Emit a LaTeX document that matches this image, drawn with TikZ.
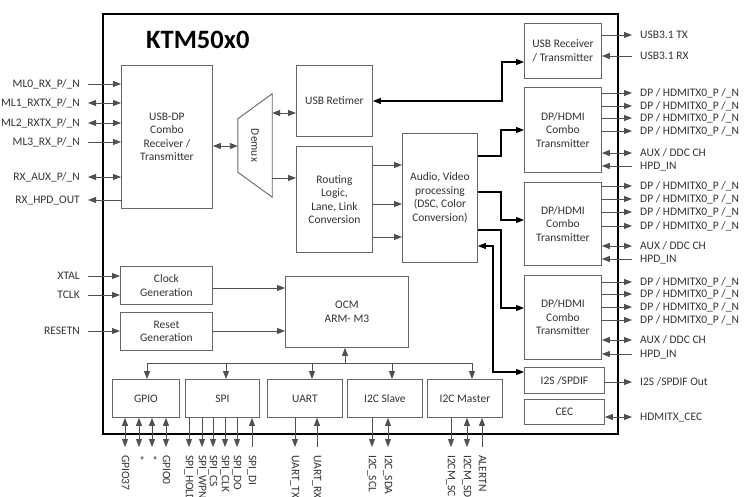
\documentclass[tikz,border=0pt]{standalone}
\usepackage{fontspec}
\setmainfont{Carlito}
\usetikzlibrary{arrows.meta}
\definecolor{txt}{HTML}{333333}
\definecolor{linec}{HTML}{505050}
\definecolor{boxc}{HTML}{666666}
\newcommand{\lblf}{\fontsize{11.5}{13.5}\selectfont}
\begin{document}
\begin{tikzpicture}[x=1pt,y=-1pt,
  >={Triangle[length=8pt,width=6pt]},
  blk/.style={draw=boxc, line width=0.9pt, align=center, inner sep=1pt, font=\lblf, text=txt, anchor=north west},
  pinlbl/.style={font=\lblf, text=txt, inner sep=0pt, text height=1.6ex, text depth=0.3ex},
  wire/.style={draw=linec, line width=0.9pt},
  ar/.style={wire, ->},
  bi/.style={wire, <->}]
\useasboundingbox (0,0) rectangle (750,497);
\fill[white] (0,0) rectangle (750,497);

% chip
\node[draw=black, line width=2.2pt, minimum width=515pt, minimum height=420pt, anchor=north west, inner sep=0pt] (chip) at (102,13) {};
\node[font=\bfseries\fontsize{26.5}{29}\selectfont, text=black, anchor=west, inner sep=0pt] (title) at (146,40) {KTM50x0};

% blocks
\node[blk, minimum width=91pt, minimum height=143pt] (usbdp) at (121,65) {USB-DP\\Combo\\Receiver /\\Transmitter};
\node[minimum width=34pt, minimum height=103pt, inner sep=0pt] (demux) at (255,145.5) {};
\draw[draw=boxc, line width=0.9pt] (demux.north east) -- (demux.south east) -- ([yshift=25pt]demux.south west) -- ([yshift=-25pt]demux.north west) -- cycle;
\node[font=\lblf, text=txt, rotate=-90] (demuxt) at (demux.center) {Demux};
\node[blk, minimum width=76pt, minimum height=71pt] (usbret) at (296,65) {USB Retimer};
\node[blk, minimum width=76pt, minimum height=106pt] (routing) at (296,146) {Routing\\Logic,\\Lane, Link\\Conversion};
\node[blk, minimum width=75pt, minimum height=129pt] (av) at (402,133) {Audio, Video\\processing\\(DSC, Color\\Conversion)};
\node[blk, minimum width=77pt, minimum height=55pt] (usbrx) at (524,23) {USB Receiver\\/ Transmitter};
\node[blk, minimum width=77pt, minimum height=85pt] (dp1) at (524,87) {DP/HDMI\\Combo\\Transmitter};
\node[blk, minimum width=77pt, minimum height=83pt] (dp2) at (524,182) {DP/HDMI\\Combo\\Transmitter};
\node[blk, minimum width=77pt, minimum height=84pt] (dp3) at (524,275) {DP/HDMI\\Combo\\Transmitter};
\node[blk, minimum width=80pt, minimum height=26pt] (i2s) at (524,367) {I2S /SPDIF};
\node[blk, minimum width=80pt, minimum height=25pt] (cec) at (524,399) {CEC};
\node[blk, minimum width=92pt, minimum height=38pt] (clk) at (120,266) {Clock\\Generation};
\node[blk, minimum width=92pt, minimum height=38pt] (rst) at (120,312) {Reset\\Generation};
\node[blk, minimum width=123pt, minimum height=71pt] (ocm) at (285,276) {OCM\\ARM- M3};
\node[blk, minimum width=67pt, minimum height=38pt] (gpio) at (112,379) {GPIO};
\node[blk, minimum width=74pt, minimum height=38pt] (spi) at (185,379) {SPI};
\node[blk, minimum width=75pt, minimum height=38pt] (uart) at (267,379) {UART};
\node[blk, minimum width=75pt, minimum height=38pt] (i2cs) at (347,379) {I2C Slave};
\node[blk, minimum width=75pt, minimum height=38pt] (i2cm) at (427,379) {I2C Master};

% left pins
\node[pinlbl, anchor=east] (ml0) at (80,84) {ML0\_RX\_P/\_N};
\node[pinlbl, anchor=east] (ml1) at (80,103) {ML1\_RXTX\_P/\_N};
\node[pinlbl, anchor=east] (ml2) at (80,123) {ML2\_RXTX\_P/\_N};
\node[pinlbl, anchor=east] (ml3) at (80,142) {ML3\_RX\_P/\_N};
\node[pinlbl, anchor=east] (rxaux) at (80,177) {RX\_AUX\_P/\_N};
\node[pinlbl, anchor=east] (rxhpd) at (80,200) {RX\_HPD\_OUT};
\node[pinlbl, anchor=east] (xtal) at (80,276) {XTAL};
\node[pinlbl, anchor=east] (tclk) at (80,295) {TCLK};
\node[pinlbl, anchor=east] (resetn) at (80,331) {RESETN};
\draw[ar] ([xshift=8pt]ml0.east) -- (usbdp.west |- ml0.east);
\draw[bi] ([xshift=8pt]ml1.east) -- (usbdp.west |- ml1.east);
\draw[bi] ([xshift=8pt]ml2.east) -- (usbdp.west |- ml2.east);
\draw[ar] ([xshift=8pt]ml3.east) -- (usbdp.west |- ml3.east);
\draw[bi] ([xshift=8pt]rxaux.east) -- (usbdp.west |- rxaux.east);
\draw[ar] (usbdp.west |- rxhpd.east) -- ([xshift=8pt]rxhpd.east);
\draw[ar] ([xshift=8pt]xtal.east) -- (clk.west |- xtal.east);
\draw[ar] ([xshift=8pt]tclk.east) -- (clk.west |- tclk.east);
\draw[ar] ([xshift=8pt]resetn.east) -- (rst.west |- resetn.east);

% right pins
\node[pinlbl, anchor=west] (utx) at (640,35) {USB3.1 TX};
\node[pinlbl, anchor=west] (urx) at (640,56) {USB3.1 RX};
\draw[ar] (usbrx.east |- utx.west) -- ([xshift=-8pt]utx.west);
\draw[ar] ([xshift=-8pt]urx.west) -- (usbrx.east |- urx.west);

\node[pinlbl, anchor=west] (a1) at (640,93) {DP / HDMITX0\_P /\_N};
\node[pinlbl, anchor=west] (a2) at (640,106) {DP / HDMITX0\_P /\_N};
\node[pinlbl, anchor=west] (a3) at (640,118) {DP / HDMITX0\_P /\_N};
\node[pinlbl, anchor=west] (a4) at (640,131) {DP / HDMITX0\_P /\_N};
\node[pinlbl, anchor=west] (aaux) at (640,153) {AUX / DDC CH};
\node[pinlbl, anchor=west] (ahpd) at (640,166) {HPD\_IN};
\draw[ar] (dp1.east |- a1.west) -- ([xshift=-8pt]a1.west);
\draw[ar] (dp1.east |- a2.west) -- ([xshift=-8pt]a2.west);
\draw[ar] (dp1.east |- a3.west) -- ([xshift=-8pt]a3.west);
\draw[ar] (dp1.east |- a4.west) -- ([xshift=-8pt]a4.west);
\draw[bi] (dp1.east |- aaux.west) -- ([xshift=-8pt]aaux.west);
\draw[ar] ([xshift=-8pt]ahpd.west) -- (dp1.east |- ahpd.west);

\node[pinlbl, anchor=west] (b1) at (640,186) {DP / HDMITX0\_P /\_N};
\node[pinlbl, anchor=west] (b2) at (640,199) {DP / HDMITX0\_P /\_N};
\node[pinlbl, anchor=west] (b3) at (640,212) {DP / HDMITX0\_P /\_N};
\node[pinlbl, anchor=west] (b4) at (640,226) {DP / HDMITX0\_P /\_N};
\node[pinlbl, anchor=west] (baux) at (640,246) {AUX / DDC CH};
\node[pinlbl, anchor=west] (bhpd) at (640,259) {HPD\_IN};
\draw[ar] (dp2.east |- b1.west) -- ([xshift=-8pt]b1.west);
\draw[ar] (dp2.east |- b2.west) -- ([xshift=-8pt]b2.west);
\draw[ar] (dp2.east |- b3.west) -- ([xshift=-8pt]b3.west);
\draw[ar] (dp2.east |- b4.west) -- ([xshift=-8pt]b4.west);
\draw[bi] (dp2.east |- baux.west) -- ([xshift=-8pt]baux.west);
\draw[ar] ([xshift=-8pt]bhpd.west) -- (dp2.east |- bhpd.west);

\node[pinlbl, anchor=west] (c1) at (640,282) {DP / HDMITX0\_P /\_N};
\node[pinlbl, anchor=west] (c2) at (640,294) {DP / HDMITX0\_P /\_N};
\node[pinlbl, anchor=west] (c3) at (640,307) {DP / HDMITX0\_P /\_N};
\node[pinlbl, anchor=west] (c4) at (640,320) {DP / HDMITX0\_P /\_N};
\node[pinlbl, anchor=west] (caux) at (640,340) {AUX / DDC CH};
\node[pinlbl, anchor=west] (chpd) at (640,354) {HPD\_IN};
\draw[ar] (dp3.east |- c1.west) -- ([xshift=-8pt]c1.west);
\draw[ar] (dp3.east |- c2.west) -- ([xshift=-8pt]c2.west);
\draw[ar] (dp3.east |- c3.west) -- ([xshift=-8pt]c3.west);
\draw[ar] (dp3.east |- c4.west) -- ([xshift=-8pt]c4.west);
\draw[bi] (dp3.east |- caux.west) -- ([xshift=-8pt]caux.west);
\draw[ar] ([xshift=-8pt]chpd.west) -- (dp3.east |- chpd.west);

\node[pinlbl, anchor=west] (i2so) at (640,382) {I2S /SPDIF Out};
\node[pinlbl, anchor=west] (ceco) at (640,417) {HDMITX\_CEC};
\draw[ar] (i2s.east |- i2so.west) -- ([xshift=-8pt]i2so.west);
\draw[bi] (cec.east |- ceco.west) -- ([xshift=-8pt]ceco.west);

% internal
\draw[bi] (usbdp.east |- 0,146) -- (demux.west |- 0,146);
\draw[bi] (demux.east |- 0,113) -- (usbret.west |- 0,113);
\draw[ar] (demux.east |- 0,178) -- (routing.west |- 0,178);
\draw[ar] (routing.east |- 0,165) -- (av.west |- 0,165);
\draw[ar] (routing.east |- 0,204) -- (av.west |- 0,204);
\draw[ar] (routing.east |- 0,237) -- (av.west |- 0,237);
\draw[bi, draw=black, line width=1.1pt] (usbret.east |- 0,101) -- (502,101) -- (502,62) -- (usbrx.west |- 0,62);
\draw[ar, draw=black, line width=1.1pt] (av.east |- 0,156) -- (501,156) -- (501,130) -- (dp1.west |- 0,130);
\draw[ar, draw=black, line width=1.1pt] (av.east |- 0,192) -- (501,192) -- (501,220) -- (dp2.west |- 0,220);
\draw[ar, draw=black, line width=1.1pt] (av.east |- 0,230) -- (501,230) -- (501,308) -- (dp3.west |- 0,308);
\draw[bi, draw=black, line width=1.1pt] (av.east |- 0,246) -- (493,246) -- (493,372) -- (i2s.west |- 0,372);
\draw[ar] (clk.east |- 0,288) -- (ocm.west |- 0,288);
\draw[ar] (rst.east |- 0,331) -- (ocm.west |- 0,331);

% bus
\coordinate (bgpio) at (147,363);
\coordinate (bspi) at (226,363);
\coordinate (buart) at (312,363);
\coordinate (bocm) at (345,363);
\coordinate (bi2cs) at (392,363);
\coordinate (bi2cm) at (472,363);
\draw[wire] (bgpio) -- (bi2cm);
\draw[ar] (bocm) -- (ocm.south -| bocm);
\draw[ar] (bgpio) -- (gpio.north -| bgpio);
\draw[ar] (bspi) -- (spi.north -| bspi);
\draw[ar] (buart) -- (uart.north -| buart);
\draw[ar] (bi2cs) -- (i2cs.north -| bi2cs);
\draw[ar] (bi2cm) -- (i2cm.north -| bi2cm);

% bottom pins
\tikzset{vlbl/.style={pinlbl, anchor=west, rotate=-90}}
\node[vlbl] (g37) at (125,455) {GPIO37};
\node[vlbl] (gs1) at (139,455) {*};
\node[vlbl] (gs2) at (152,455) {*};
\node[vlbl] (g0) at (166,455) {GPIO0};
\draw[bi] (gpio.south -| g37.west) -- ([yshift=8pt]g37.west);
\draw[bi] (gpio.south -| gs1.west) -- ([yshift=8pt]gs1.west);
\draw[bi] (gpio.south -| gs2.west) -- ([yshift=8pt]gs2.west);
\draw[bi] (gpio.south -| g0.west) -- ([yshift=8pt]g0.west);

\node[vlbl] (shold) at (189,455) {SPI\_HOLD};
\node[vlbl] (swpn) at (202,455) {SPI\_WPN};
\node[vlbl] (scs) at (213,455) {SPI\_CS};
\node[vlbl] (sclk) at (225,455) {SPI\_CLK};
\node[vlbl] (sdo) at (237,455) {SPI\_DO};
\node[vlbl] (sdi) at (252,455) {SPI\_DI};
\draw[ar] (spi.south -| shold.west) -- ([yshift=8pt]shold.west);
\draw[ar] (spi.south -| swpn.west) -- ([yshift=8pt]swpn.west);
\draw[ar] (spi.south -| scs.west) -- ([yshift=8pt]scs.west);
\draw[ar] (spi.south -| sclk.west) -- ([yshift=8pt]sclk.west);
\draw[ar] (spi.south -| sdo.west) -- ([yshift=8pt]sdo.west);
\draw[ar] ([yshift=8pt]sdi.west) -- (spi.south -| sdi.west);

\node[vlbl] (utxp) at (295,455) {UART\_TX};
\node[vlbl] (urxp) at (317,455) {UART\_RX};
\draw[ar] (uart.south -| utxp.west) -- ([yshift=8pt]utxp.west);
\draw[ar] ([yshift=8pt]urxp.west) -- (uart.south -| urxp.west);

\node[vlbl] (scl) at (372,455) {I2C\_SCL};
\node[vlbl] (sda) at (388,455) {I2C\_SDA};
\draw[ar] (i2cs.south -| scl.west) -- ([yshift=8pt]scl.west);
\draw[bi] (i2cs.south -| sda.west) -- ([yshift=8pt]sda.west);

\node[vlbl] (mscl) at (451,455) {I2CM\_SCL};
\node[vlbl] (msda) at (467,455) {I2CM\_SDA};
\node[vlbl] (alert) at (482,455) {ALERTN};
\draw[ar] (i2cm.south -| mscl.west) -- ([yshift=8pt]mscl.west);
\draw[bi] (i2cm.south -| msda.west) -- ([yshift=8pt]msda.west);
\draw[ar] ([yshift=8pt]alert.west) -- (i2cm.south -| alert.west);
\end{tikzpicture}
\end{document}
